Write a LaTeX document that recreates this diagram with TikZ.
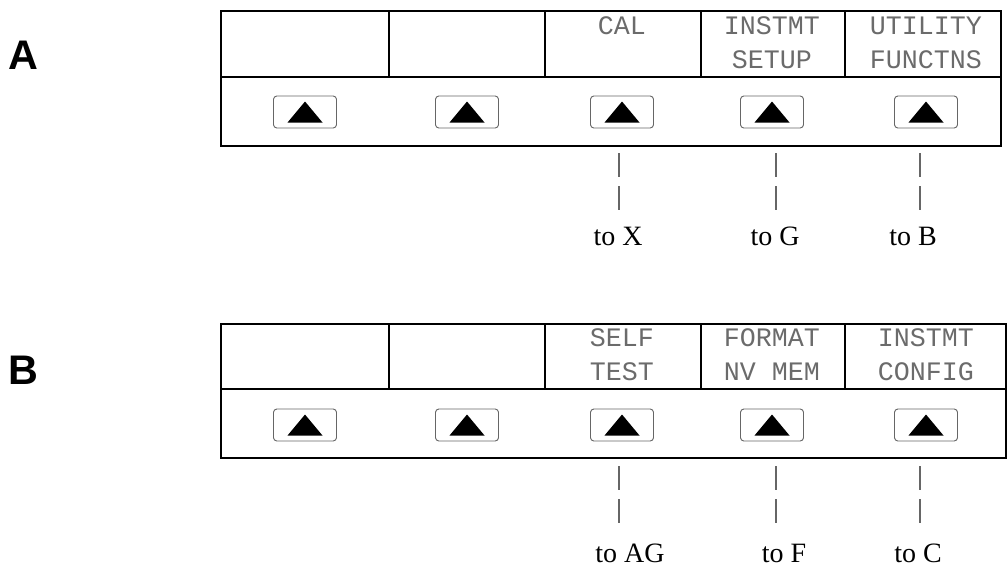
\documentclass[tikz,border=0pt]{standalone}
\usepackage{fontspec}
\setmainfont{Liberation Serif}
\setsansfont{Liberation Sans}
\newfontfamily\lcdfont{Liberation Mono}
\usetikzlibrary{positioning}
\newcommand{\myunit}{0.75pt}
\tikzset{
    panelsty/.style={draw, line width=1.6pt},
    keysty/.style={draw=black!60, line width=0.7pt, rounded corners=2.5pt, minimum width=63*\myunit, minimum height=32*\myunit, inner sep=0pt},
    lcdsty/.style={font=\lcdfont\fontsize{20}{25.5}\selectfont, text=black!58, inner sep=0pt, align=center},
    headsty/.style={font=\sffamily\bfseries\fontsize{31}{33}\selectfont, inner sep=0pt, anchor=west},
    tosty/.style={font=\fontsize{21}{23}\selectfont, inner sep=0pt},
    tapsty/.style={draw=black!60, line width=0.8pt, dash pattern=on 18pt off 6.75pt},
}
% soft key with its arrow: name, position
\newcommand{\softkey}[2]{%
  \node[keysty] (#1) at #2 {};
  \fill ([shift={(-17.5,10.5)}]#1.center) -- ++(35,0) -- ++(-17.5,-21) -- cycle;}

\begin{document}
\begin{tikzpicture}[x=\myunit, y=-\myunit]
\useasboundingbox (0,0) rectangle (1008,571);

% panel A
\node[headsty] (hA) at (8,55) {A};
\draw[panelsty] (221,11) rectangle (1001,146);
\draw[panelsty] (221,77) -- (1001,77);
\foreach \x in {389,545,701,845}
  \draw[panelsty] (\x,11) -- (\x,77);
\softkey{kA1}{(305,112)}
\softkey{kA2}{(467,112)}
\softkey{kA3}{(622,112)}
\softkey{kA4}{(772,112)}
\softkey{kA5}{(926,112)}
\node[lcdsty] (lA3) at (622,26) {CAL};
\node[lcdsty] (lA4) at (772,43) {INSTMT\\SETUP};
\node[lcdsty] (lA5) at (926,43) {UTILITY\\FUNCTNS};
\node[tosty] (toX) at (618,236) {to X};
\node[tosty] (toG) at (775,236) {to G};
\node[tosty] (toB) at (913,236) {to B};
\coordinate (tA3) at (619,153); \coordinate (eA3) at (619,210);
\coordinate (tA4) at (776,153); \coordinate (eA4) at (776,210);
\coordinate (tA5) at (920,153); \coordinate (eA5) at (920,210);
\draw[tapsty] (tA3) -- (eA3);
\draw[tapsty] (tA4) -- (eA4);
\draw[tapsty] (tA5) -- (eA5);

% panel B
\node[headsty] (hB) at (8,370) {B};
\draw[panelsty] (221,324) rectangle (1006,458);
\draw[panelsty] (221,389) -- (1006,389);
\foreach \x in {389,545,701,845}
  \draw[panelsty] (\x,324) -- (\x,389);
\softkey{kB1}{(305,425)}
\softkey{kB2}{(467,425)}
\softkey{kB3}{(622,425)}
\softkey{kB4}{(772,425)}
\softkey{kB5}{(926,425)}
\node[lcdsty] (lB3) at (622,355) {SELF\\TEST};
\node[lcdsty] (lB4) at (772,355) {FORMAT\\NV MEM};
\node[lcdsty] (lB5) at (926,355) {INSTMT\\CONFIG};
\node[tosty] (toAG) at (630,553) {to AG};
\node[tosty] (toF) at (784,553) {to F};
\node[tosty] (toC) at (918,553) {to C};
\coordinate (tB3) at (619,466); \coordinate (eB3) at (619,523);
\coordinate (tB4) at (776,466); \coordinate (eB4) at (776,523);
\coordinate (tB5) at (920,466); \coordinate (eB5) at (920,523);
\draw[tapsty] (tB3) -- (eB3);
\draw[tapsty] (tB4) -- (eB4);
\draw[tapsty] (tB5) -- (eB5);
\end{tikzpicture}
\end{document}
